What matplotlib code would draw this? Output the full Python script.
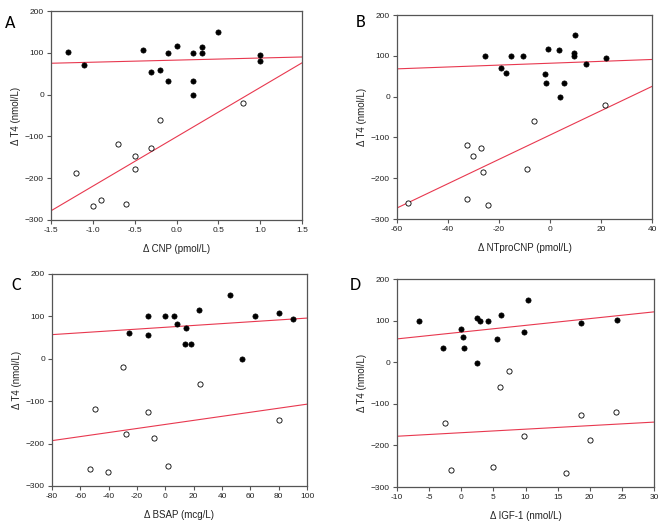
import matplotlib
matplotlib.use("Agg")
import matplotlib.pyplot as plt
import numpy as np

plt.rcParams['font.family'] = ['Liberation Sans', 'DejaVu Sans']

# Panel A: delta CNP
a_fill_x = [-1.3, -1.1, -0.4, -0.3, -0.2, -0.1, -0.1, 0.0, 0.2, 0.2, 0.2, 0.3, 0.3, 0.5, 1.0, 1.0]
a_fill_y = [101, 72, 107, 55, 59, 99, 33, 117, 99, 33, -2, 113, 100, 149, 94, 81]
a_open_x = [-1.2, -1.0, -0.9, -0.7, -0.6, -0.5, -0.5, -0.3, -0.2, 0.8]
a_open_y = [-187, -266, -253, -119, -261, -146, -177, -127, -60, -21]
a_line_top = [75, 90]
a_line_bot = [-278, 76]

# Panel B: delta NTproCNP
b_fill_x = [-25.4, -19.3, -17.3, -15.1, -10.5, -1.8, -1.5, -0.8, 3.5, 3.9, 5.6, 9.9, 9.5, 9.5, 14.1, 21.8]
b_fill_y = [100, 71, 58, 99, 99, 55, 34, 117, 113, -1, 34, 150, 107, 100, 81, 94]
b_open_x = [-55.8, -32.5, -30.2, -26.9, -26.2, -32.4, -24.3, -9.2, -6.3, 21.5]
b_open_y = [-260, -118, -145, -126, -186, -252, -266, -177, -59, -20]
b_line_top = [68, 91]
b_line_bot = [-273, 25]

# Panel C: delta BSAP
c_fill_x = [-25.8, -12, -12, -0.2, 5.9, 8, 14.8, 13.9, 17.9, 24, 45.6, 53.8, 63.6, 80.5, 90.4]
c_fill_y = [60, 100, 56, 100, 101, 82, 73, 34, 34, 114, 150, -1, 102, 107, 94]
c_open_x = [-29.8, -49.7, -12, -27.9, -8, -53.5, -40.8, 1.9, 24.7, 80.5]
c_open_y = [-20, -118, -125, -177, -187, -260, -267, -253, -59, -145]
c_line_top = [57, 96]
c_line_bot = [-193, -107]

# Panel D: delta IGF-1
d_fill_x = [-6.5, -2.8, 0.03, 0.2, 0.5, 2.4, 2.4, 2.9, 4.2, 5.6, 6.2, 10.4, 9.7, 18.7, 24.3]
d_fill_y = [99, 34, 81, 60, 34, 107, -1, 99, 100, 56, 113, 149, 72, 94, 101]
d_open_x = [-2.5, -1.6, 4.9, 6.1, 7.4, 9.7, 16.3, 18.6, 20.1, 24.1]
d_open_y = [-145, -260, -252, -59, -21, -177, -266, -126, -187, -119]
d_line_top = [56, 121]
d_line_bot = [-178, -144]

panels = [
    dict(letter='A', xlabel='Δ CNP (pmol/L)', xlim=(-1.5, 1.5), xticks=np.arange(-1.5, 1.51, 0.5), fmt='{:.1f}',
         fx=a_fill_x, fy=a_fill_y, ox=a_open_x, oy=a_open_y, lt=a_line_top, lb=a_line_bot,
         rect=(51, 11, 302, 220), lpos=(5, 28)),
    dict(letter='B', xlabel='Δ NTproCNP (pmol/L)', xlim=(-60, 40), xticks=np.arange(-60, 41, 20), fmt='{:.0f}',
         fx=b_fill_x, fy=b_fill_y, ox=b_open_x, oy=b_open_y, lt=b_line_top, lb=b_line_bot,
         rect=(397, 15, 652, 219), lpos=(356, 27)),
    dict(letter='C', xlabel='Δ BSAP (mcg/L)', xlim=(-80, 100), xticks=np.arange(-80, 101, 20), fmt='{:.0f}',
         fx=c_fill_x, fy=c_fill_y, ox=c_open_x, oy=c_open_y, lt=c_line_top, lb=c_line_bot,
         rect=(52, 274, 307, 486), lpos=(11, 290)),
    dict(letter='D', xlabel='Δ IGF-1 (nmol/L)', xlim=(-10, 30), xticks=np.arange(-10, 31, 5), fmt='{:.0f}',
         fx=d_fill_x, fy=d_fill_y, ox=d_open_x, oy=d_open_y, lt=d_line_top, lb=d_line_bot,
         rect=(397, 279, 654, 487), lpos=(350, 290)),
]

W, H = 665, 529
fig = plt.figure(figsize=(W / 100, H / 100), dpi=100)

for p in panels:
    x0, y0, x1, y1 = p['rect']
    ax = fig.add_axes([x0 / W, 1 - y1 / H, (x1 - x0) / W, (y1 - y0) / H])
    ax.set_xlim(*p['xlim'])
    ax.set_ylim(-300, 200)
    xl = np.array(p['xlim'])
    ax.plot(xl, p['lt'], color='#e8384f', lw=0.8, zorder=2)
    ax.plot(xl, p['lb'], color='#e8384f', lw=0.8, zorder=2)
    ax.scatter(p['fx'], p['fy'], s=14, c='black', edgecolors='black', linewidths=0.5, zorder=3)
    ax.scatter(p['ox'], p['oy'], s=14, facecolors='white', edgecolors='black', linewidths=0.6, zorder=3)
    ax.set_xticks(p['xticks'])
    ax.set_xticklabels([p['fmt'].format(v) for v in p['xticks']])
    ax.set_yticks(np.arange(-300, 201, 100))
    ax.tick_params(direction='out', length=3, width=0.8, color='#555555', labelsize=6, pad=2, labelcolor='#222222')
    for s in ax.spines.values():
        s.set_color('#555555')
        s.set_linewidth(0.9)
    ax.set_xlabel(p['xlabel'], fontsize=7, labelpad=7, color='#222222')
    ax.set_ylabel('Δ T4 (nmol/L)', fontsize=7, labelpad=3, color='#222222')
    fig.text(p['lpos'][0] / W, 1 - p['lpos'][1] / H, p['letter'], fontsize=13, ha='left', va='baseline', family=['Carlito', 'Liberation Sans', 'DejaVu Sans'])

fig.savefig('out.png', dpi=100)
